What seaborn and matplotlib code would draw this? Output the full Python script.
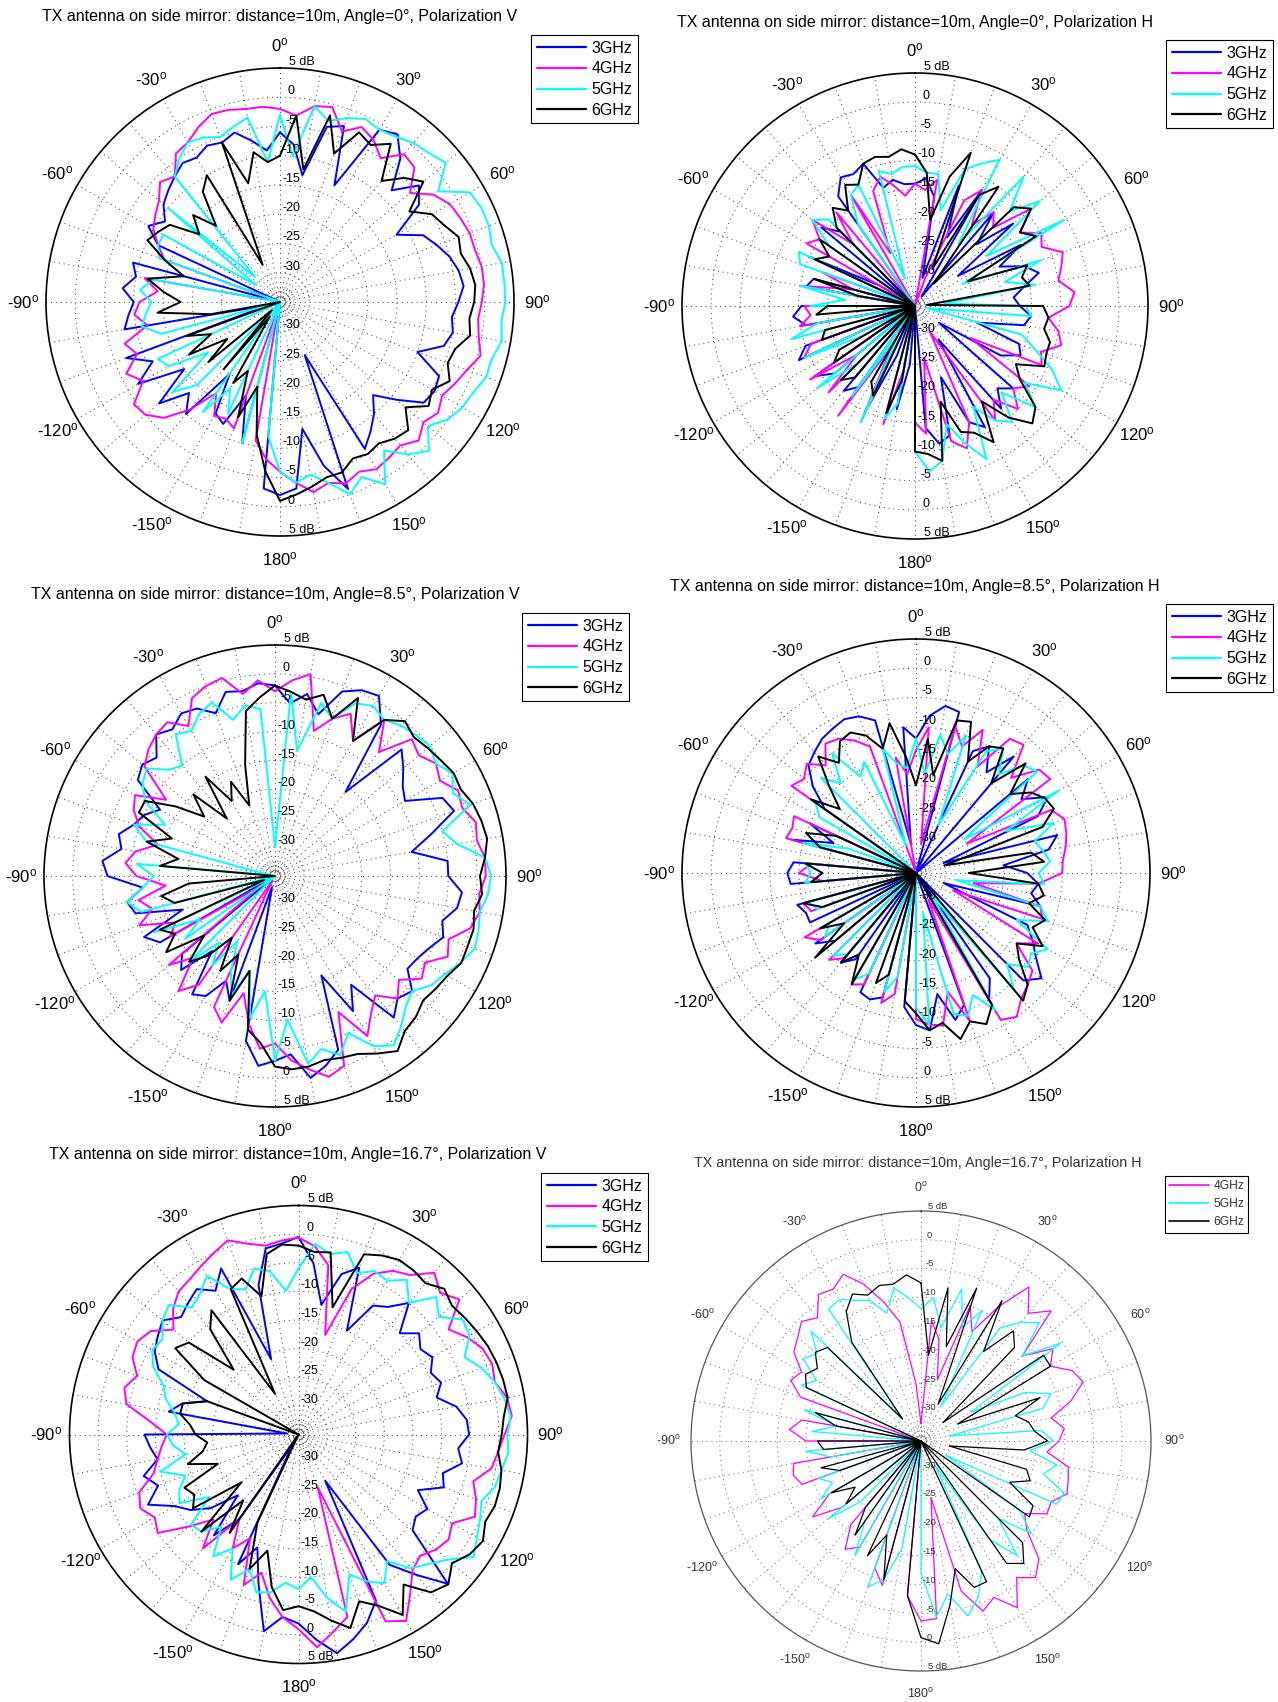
import numpy as np
import matplotlib
matplotlib.use("Agg")
import matplotlib.pyplot as plt
from matplotlib.lines import Line2D
import seaborn as sns

sns.set_theme(style="white")
plt.rcParams["font.family"] = ["Liberation Sans", "DejaVu Sans"]
plt.rcParams["mathtext.fontset"] = "custom"
plt.rcParams["mathtext.rm"] = "Liberation Sans"
plt.rcParams["mathtext.it"] = "Liberation Sans:italic"
plt.rcParams["mathtext.bf"] = "Liberation Sans:bold"

# azimuth of each sample, degrees clockwise from the front (0..355)
ANGLES = np.arange(0, 360, 5)
FREQS = ["3GHz", "4GHz", "5GHz", "6GHz"]
COLORS = {"3GHz": "#0000ff", "4GHz": "#ff00ff", "5GHz": "#00ffff", "6GHz": "#000000"}
RING_LEVELS = [-30, -25, -20, -15, -10, -5, 0]
R_MIN, R_MAX = -35, 5

# ---- received level (dB), angle 0 deg, polarization V ----
v0_3 = [-6, -8, -13, -4, -3, -13, -1, 0, -3,
        -8, -4, -6, -12, -8, -6.5, -5, -4, -3.5,
        -4.5, -5.5, -5, -6, -10, -5, -4.5, -5, -9,
        -12.5, -10, -8, -6, -25, -1, -6, -13, -3,
        -2, -3, -35, -10, -18, -12, -13, -20, -10,
        -13, -8, -15, -7, -11, -7, -33, -8, -9,
        -10, -8, -10, -9, -35, -12, -9, -11, -9,
        -8, -7, -6, -6.5, -5.5, -6, -5, -7, -9]
v0_4 = [-2, -3, -1, -0.5, -4, -2, -3, -5, -2,
        -2.5, -6, -3, -1.5, -1, -0.5, -0.5, 0, 0,
        -0.5, -1, -0.5, 0.5, -1, -2, -3, -2, -3,
        -1.5, -3, -2.5, -2, -3, -2, -3, -2, -4,
        -6, -8, -11, -34, -12, -13, -12.5, -16, -11,
        -7, -5, -4.5, -8, -6, -9, -7.5, -12, -10,
        -11, -14, -11.5, -35, -14, -12, -10, -9, -8,
        -6, -7, -4, -3.5, -2, -0.8, -1, -1.5, -1.5]
v0_5 = [-3, -10, -1, -3, -1.5, -0.5, -1, -0.5, 0.5,
        1, 2, -2, 2.5, 3, 3, 2.5, 3.5, 3.5,
        3.5, 3, 3.5, 2.5, 2.5, 1.5, 1, 0, -2,
        1, -1, -4, 1, -2, 0, -3, -5, -4,
        -6, -12, -35, -10, -35, -14, -18, -12, -34,
        -15, -11, -20, -13, -12, -35, -14, -11, -12,
        -13, -11, -13, -35, -13, -12, -12, -30, -10,
        -29, -7, -5, -3.5, -4, -5, -4, -3, -11]
v0_6 = [-10, -3, -12, -2, -8, -3, -4, -2, -8,
        -5, -3, -8, -5, -4, -2.5, -3, -2, -1.5,
        -1.8, -2.5, -2, -4, -4.5, -3, -5, -4, -7,
        -4, -4.5, -5.5, -5, -5.5, -4, -4, -3, -2,
        -1, -6, -12, -20, -14, -22, -19, -32, -20,
        -33, -19, -24, -17, -22, -18, -35, -23, -14,
        -18, -15, -12, -18, -14, -10, -11, -12, -17,
        -14, -18, -12, -10, -28, -6, -14, -9, -11]

# ---- angle 0 deg, polarization H ----
h0_3 = [-14, -13, -16, -30, -13, -22, -12, -33, -14,
        -20, -13, -26, -14, -19, -15, -13, -16, -18,
        -17, -15, -16, -24, -16, -15, -18, -30, -13,
        -15, -12, -28, -11, -13, -22, -12, -11, -14,
        -35, -25, -17, -35, -26, -16, -35, -18, -16,
        -35, -17, -14, -35, -13, -15, -35, -16, -14,
        -15.5, -35, -16, -17, -35, -15, -28, -35, -14,
        -17, -35, -12, -9.5, -10, -9, -14, -13, -14]
h0_4 = [-14, -15, -13, -35, -30, -15, -12, -18, -14,
        -16, -9, -13, -10, -11, -8, -9, -10, -7.5,
        -8.5, -12, -10, -9, -12, -11, -24, -11, -13,
        -10, -14, -11, -30, -13, -9, -11, -26, -13,
        -15, -35, -24, -14, -35, -13, -27, -12, -35,
        -14, -22, -13, -35, -14, -16, -35, -15, -17,
        -16, -35, -15, -24, -18, -35, -13.5, -15, -12,
        -20, -14, -35, -13, -25, -14, -12, -14, -16]
h0_5 = [-11, -12, -12, -18, -10, -8, -6, -22, -6,
        -12, -7, -20, -5.5, -26, -12, -19, -14, -30,
        -16, -15, -33, -16, -13, -9, -6, -12, -8,
        -14, -9, -11, -15, -6, -10, -14, -8, -6.5,
        -10, -35, -18, -15, -35, -13, -29, -16, -35,
        -21, -13, -35, -25, -14, -35, -13, -18, -35,
        -17, -23, -15, -35, -14, -13, -35, -17, -12,
        -14, -35, -18, -13, -12, -30, -11, -12, -11]
h0_6 = [-9, -12, -20, -12, -7, -28, -13, -10, -30,
        -11, -9, -13, -11, -25, -14.5, -16, -15, -33,
        -13, -12, -12.5, -11, -11, -10.5, -15, -13, -8,
        -6.5, -10, -15, -8, -11, -12, -18, -8, -9.5,
        -10, -35, -22, -16, -35, -18, -20, -35, -19,
        -17, -35, -18, -20, -35, -18, -19, -35, -18,
        -20, -35, -25, -17, -35, -16, -18, -15, -35,
        -16, -13, -15, -11, -12, -9, -8.5, -9, -8]

# ---- angle 8.5 deg, polarization V ----
v85_3 = [-2, -5, -3, -6, -1, 0.5, 1, -3, -16,
         -4, -6, -8, -9, -3, -2, -7, -11, -5,
         -5, -2.5, -3, -5, -4, -5.5, -6.5, -7, -4,
         -5, -3, -12, -8, -16, -3, -1, 0.5, -4,
         -3, -2, -6, -33, -12, -15, -11, -10, -18,
         -12, -14, -35, -12, -10, -18, -10, -9, -12,
         -6, -5, -8, -7, -9, -10, -12, -6, -5,
         -6, -3, -4, -2.5, -3, -5, -2, -2.5, -1.5]
v85_4 = [-3, -1, 0.5, -9, -6, -4, -8, -2, -7,
         -1.5, -2.5, -1, -2, 0, -0.5, 1, 0.5, 1.5,
         1.5, 0.5, 1, 0, -3, -2, -5, -4, -7,
         -5, -8, -6, -3, -9, 0, 1, -1, -3,
         -6, -5, -9, -14, -8, -10, -34, -12, -9,
         -15, -11, -32, -14, -16, -10, -13, -11, -16,
         -11, -9, -10.5, -14, -10, -8, -7, -12, -5.5,
         -4, -3, -2.5, -5, -1, 0, 0.5, -3, -1]
v85_5 = [-30, -3, -13, -4, -6, -2, -1, -2, -1,
         -0.5, 0, -1, 0.5, -1, 1, -5, -3, 1.5,
         2.4, 2, 1, 1.5, 1.8, 0.5, -1, -2, -4,
         -3, -1, 0.8, -1, -5, -2, -4, -2, -10,
         -3, -15, -10, -18, -13, -17, -22, -16, -20,
         -14, -35, -16, -20, -12, -35, -11, -9, -12,
         -14, -11, -34, -12, -9, -14, -9, -7, -6,
         -9, -10, -5, -6, -4, -3, -7, -5, -6]
v85_6 = [-2, -3, -4, -2.5, -6, -1, -8, -2, 0,
         -1, -0.5, 0, 0.7, 0.5, 1.5, 2, 2.3, 1.5,
         0.5, 1, 0, 0.6, 0.5, 0.6, -0.5, -1, -1.5,
         -0.5, 0, 2, 0.5, -1, -1.5, -2, -1.5, -1.4,
         -2, -6, -8, -18, -12, -20, -16, -22, -17,
         -14, -19, -12, -15, -13, -33, -17, -15, -20,
         -35, -15, -18, -12, -16, -9, -9, -14, -19,
         -15, -22, -14, -20, -17, -22, -15, -6, -4]

# ---- angle 8.5 deg, polarization H ----
h85_3 = [-12, -8, -6, -6.5, -35, -12, -10, -14, -9,
         -35, -10, -13, -9, -12, -30, -10, -12, -20,
         -16, -14, -15, -13, -30, -14, -12, -10, -7,
         -9, -35, -13, -10, -35, -11, -9, -14, -8,
         -9, -12, -35, -13, -12, -12.5, -35, -17, -15,
         -35, -17, -14, -35, -15, -15, -14, -35, -13.5,
         -13, -14, -35, -13, -20, -15, -35, -16, -12,
         -9, -8, -7, -6.5, -6, -6.5, -8, -30, -10]
h85_4 = [-14, -10, -30, -9, -12, -8, -14, -7, -6.4,
         -12, -7.5, -7, -25, -9.5, -8, -8.4, -9, -9.8,
         -10, -14, -25, -13, -12, -28, -11, -14, -9,
         -8, -7, -5, -6, -30, -8, -14, -8.5, -9,
         -10, -35, -14, -12, -35, -14, -13, -35, -16,
         -14, -35, -15, -13, -35, -16, -15, -35, -19,
         -15, -17, -35, -12, -12.5, -12, -35, -9, -10,
         -8.6, -11, -8, -8.5, -10, -12, -35, -15, -18]
h85_5 = [-12, -18, -11, -14, -10, -26, -11, -9, -13,
         -9, -8, -25, -7, -18, -10, -14, -13, -12,
         -14, -13, -28, -13, -11, -16, -9, -11, -10,
         -13, -9, -30, -8, -12, -9, -10, -28, -9,
         -12, -35, -17, -14, -35, -16, -14, -35, -17,
         -15, -35, -16, -18, -35, -17, -16, -35, -16,
         -17, -16, -35, -15, -23, -35, -16, -14, -35,
         -12, -15, -10, -16, -14, -30, -13, -16, -17]
h85_6 = [-20, -12, -18, -8, -7.5, -14, -10, -9, -15,
         -8.5, -14, -11, -9.5, -9, -12, -30, -15, -13,
         -26, -14, -12.8, -15, -11.5, -13, -10, -14, -12,
         -8, -6.5, -35, -9, -6.5, -8, -5.6, -9, -8,
         -11, -13, -35, -17, -15, -35, -13, -18, -15,
         -35, -12.5, -20, -16, -35, -18, -15, -35, -17,
         -19, -16, -35, -18, -15, -20, -35, -13, -18,
         -14, -9, -12, -9, -8.5, -10, -13, -9, -15]

# ---- angle 16.7 deg, polarization V ----
v167_3 = [-0.5, -5, -12, -6, -4, -15, -9, -7.8, -5,
          -10, -7.5, -9, -8, -9.5, -8.5, -10, -7, -5.5,
          -5.2, -7, -6, -8.9, -8, -12, -9, -10, -9,
          1.9, -3, -7.2, -25.7, -3, 0, 2, 3.8, 1,
          -2, -3, -0.1, -8, -14, -10, -33, -17, -12,
          -20, -15, -12, -10, -6, -8.9, -7, -10, -9,
          -8.1, -33, -12, -14, -18, -8, -6, -5, -4,
          -6, -5, -4, -6, -3, -21, -8, -2, -1.5]
v167_4 = [-0.6, -2, -5, -17, -8, -4, -2, -1, 1.9,
          0, 1.7, -3, -1, 0.5, 1, 0.5, 2, 2.4,
          1, 0, -0.8, -3.4, -2, -1, -4, -3, -3.7,
          -5, -4, -1, 2.6, 1, -25.2, -2, 0, 2.3,
          -1, -3, -6, -10, -7, -15, -12, -17, -9,
          -14, -10, -5, -6, -4.5, -5.4, -8.8, -10, -11,
          -12, -9, -4.5, -3.5, -5, -3, -2.5, -3.5, -6.5,
          -4, -2.4, -1.9, -1, 0, 1.1, -0.5, -1.5, -1]
v167_5 = [-6, -1.6, -3, -2, -5, -3.5, -4, -2, -5,
          -1, -3, 0, -0.5, -3, -1, 0.5, 1.5, 2.2,
          1.5, 1.8, 1, 0.5, -1, 0, 1, 2.3, -1,
          -3, -4.5, -8, -5, -6.7, -9, -3, -6, -10,
          -8, -9, -7, -6.5, -10, -7, -12, -9, -14,
          -11, -10.5, -16, -11, -12, -14, -10, -15, -13,
          -12, -14, -13, -11, -9.9, -7, -5.5, -6, -4,
          -3, -6, -5, -3, -7, -8, -5, -6, -9.8]
v167_6 = [-2, -3, -2.7, -12, -1.5, -0.5, 0.2, 0, -0.5,
          1, 0, 0.5, 1, 1.5, 1.8, 2, 2.1, 1,
          0.5, 0, 1, 1.4, 1.5, 1, 2.2, 1.5, 0,
          2, 1, -3, 1.4, -2, -4, 0, -2, -4,
          -5, -4.2, -8, -14, -10, -18, -35, -14, -20,
          -11, -22, -12.5, -14, -13, -20, -15, -18, -19,
          -17, -16, -14, -14.1, -18, -35, -16, -8.7, -10,
          -19, -11, -8.5, -26.8, -7, -6, -10, -3, -1.7]

# ---- angle 16.7 deg, polarization H (no 3 GHz trace) ----
h167_4 = [-32, -14, -17, -24, -10, -14, -8, -2.3, -6,
          -3, -12, -7, -9, -6, -5, -8, -12, -10,
          -11, -13, -9, -8.5, -8, -10, -9.7, -13, -11,
          -6, -4, -6, -1.5, -5, -3.5, -8, -25, -4,
          -3.7, -8, -35, -9, -11.5, -35, -13.7, -12, -16,
          -35, -17, -12, -16.6, -35, -13, -12, -12.5, -35,
          -15, -12, -14, -35, -12.7, -10, -11, -8, -7,
          -5.6, -7, -3.9, -4.5, -3, -6, -10, -14, -25]
h167_5 = [-12, -10, -15, -7.6, -14, -10, -28, -11, -8,
          -5.9, -12, -5.3, -25, -15, -11, -13, -30, -14,
          -12, -16, -11, -13, -8.5, -9, -30, -14, -10,
          -16, -9, -14, -30, -10, -6, -3.5, -8, -4.3,
          -12, -35, -16, -10, -8, -35, -12, -18, -35,
          -20, -14, -35, -15, -18, -16, -35, -19, -15,
          -35, -16, -20, -14, -35, -12, -14, -10, -11.4,
          -8, -30, -7, -6.6, -8, -9, -12, -8, -10]
h167_6 = [-7.5, -20, -8, -18, -6.7, -28, -6.8, -16, -10,
          -12, -30, -9, -9, -28, -13, -18, -16, -15.2,
          -13, -17, -30, -16, -14.8, -18, -12.5, -12, -35,
          -10, -7.2, -9, -35, -8, -7.9, -12, -6, 0.4,
          -0.8, -8, -35, -10, -17.6, -13, -35, -15, -20,
          -35, -18, -21, -17, -35, -20, -17, -35, -18,
          -17, -35, -20, -16, -35, -13, -11.8, -13, -11,
          -12, -30, -14, -9, -6.8, -8, -7, -7.3, -6]

TITLES = [
    "TX antenna on side mirror: distance=10m, Angle=0°, Polarization V",
    "TX antenna on side mirror: distance=10m, Angle=0°, Polarization H",
    "TX antenna on side mirror: distance=10m, Angle=8.5°, Polarization V",
    "TX antenna on side mirror: distance=10m, Angle=8.5°, Polarization H",
    "TX antenna on side mirror: distance=10m, Angle=16.7°, Polarization V",
    "TX antenna on side mirror: distance=10m, Angle=16.7°, Polarization H",
]
SERIES = [
    dict(zip(FREQS, [v0_3, v0_4, v0_5, v0_6])),
    dict(zip(FREQS, [h0_3, h0_4, h0_5, h0_6])),
    dict(zip(FREQS, [v85_3, v85_4, v85_5, v85_6])),
    dict(zip(FREQS, [h85_3, h85_4, h85_5, h85_6])),
    dict(zip(FREQS, [v167_3, v167_4, v167_5, v167_6])),
    dict(zip(FREQS[1:], [h167_4, h167_5, h167_6])),
]

# figure layout in pixels: circle centre, radius, title centre, legend top-left
W, H = 1278, 1702
LAYOUT = [
    (280, 302, 234, 280, 17, 531, 35),
    (915, 306, 233, 915, 22, 1166, 40),
    (275, 876, 231, 275, 595, 522, 613),
    (916, 873, 234, 915, 586, 1166, 604),
    (298.5, 1434.5, 229, 298, 1154, 541, 1173),
    (921, 1441, 230, 918, 1163, 1165, 1176),
]
STYLE_MAIN = dict(lw=1.4, grid="#333333", edge="black", edge_lw=1.2, title_fs=11.5,
                  title_c="black", ang_fs=12, rad_fs=9, leg_fs=11.5, leg_lw=1.6,
                  leg_space=0.36, leg_hl=3.1, rad_dx=8.0, text_c="black")
STYLE_SMALL = dict(lw=0.9, grid="#666666", edge="#555555", edge_lw=0.9, title_fs=10.3,
                   title_c="#333333", ang_fs=9, rad_fs=6.8, leg_fs=8.7, leg_lw=1.2,
                   leg_space=0.5, leg_hl=3.3, rad_dx=6.0, text_c="#333333")


def draw_panel(fig, title, series, layout, st):
    cx, cy, R, tx, ty, lx, ly = layout
    ax = fig.add_axes([(cx - R) / W, 1 - (cy + R) / H, 2 * R / W, 2 * R / H],
                      projection="polar")
    ax.set_theta_zero_location("N")
    ax.set_theta_direction(-1)
    theta = np.deg2rad(np.append(ANGLES, 360))
    for name, vals in series.items():
        r = np.append(vals, vals[0])
        sns.lineplot(x=theta, y=r, ax=ax, color=COLORS[name], linewidth=st["lw"],
                     sort=False, estimator=None, legend=False)
    ax.set_ylim(R_MIN, R_MAX)
    ax.set_yticks(RING_LEVELS)
    ax.set_xticks(np.deg2rad(np.arange(0, 360, 10)))
    ax.set_xticklabels([])
    ax.set_yticklabels([])
    ax.tick_params(length=0, pad=0)
    ax.set_xlabel("")
    ax.set_ylabel("")
    ax.grid(True, color=st["grid"], linestyle=(0, (1, 4)), linewidth=0.7)
    ax.spines["polar"].set_color(st["edge"])
    ax.spines["polar"].set_linewidth(st["edge_lw"])
    ax.set_facecolor("white")

    # small dotted rings around the origin
    ring_t = np.linspace(0, 2 * np.pi, 9)
    for rr in (-34.4, -33.8, -33.2, -32.6):
        ax.plot(ring_t, np.full_like(ring_t, rr), color=st["grid"],
                linestyle=(0, (1, 3)), linewidth=0.6, zorder=0.5)

    # azimuth labels
    r_lab = R_MAX + (R_MAX - R_MIN) * 23.0 / R
    for a in range(0, 360, 30):
        v = a if a <= 180 else a - 360
        ax.text(np.deg2rad(a), r_lab, f"{v}$^{{\\mathrm{{o}}}}$", ha="center",
                va="center", fontsize=st["ang_fs"], color=st["text_c"], clip_on=False)

    # level labels along the 0 and 180 deg spokes
    for t in (0.0, np.pi):
        for lev in RING_LEVELS + [R_MAX]:
            lbl = "5 dB" if lev == R_MAX else f"{lev}"
            dx = st["rad_dx"] * (2.0 if lev == R_MAX else 1.0)
            ax.annotate(lbl, xy=(t, lev), xytext=(dx, 0), textcoords="offset points",
                        ha="center", va="bottom", fontsize=st["rad_fs"],
                        color=st["text_c"], annotation_clip=False)

    fig.text(tx / W, 1 - ty / H, title, ha="center", va="center",
             fontsize=st["title_fs"], color=st["title_c"])

    handles = [Line2D([], [], color=COLORS[n], lw=st["leg_lw"]) for n in series]
    leg = fig.legend(handles, list(series), loc="upper left",
                     bbox_to_anchor=(lx / W, 1 - ly / H), bbox_transform=fig.transFigure,
                     fontsize=st["leg_fs"], frameon=True, fancybox=False,
                     edgecolor="black", framealpha=1, borderpad=0.35,
                     handlelength=st["leg_hl"], handletextpad=0.35,
                     labelspacing=st["leg_space"], borderaxespad=0)
    leg.get_frame().set_linewidth(0.8)
    for txt in leg.get_texts():
        txt.set_color(st["text_c"])
    return ax


fig = plt.figure(figsize=(W / 100, H / 100), dpi=100, facecolor="white")
for i in range(6):
    draw_panel(fig, TITLES[i], SERIES[i], LAYOUT[i], STYLE_SMALL if i == 5 else STYLE_MAIN)

fig.savefig("out.png", dpi=100, facecolor="white")
